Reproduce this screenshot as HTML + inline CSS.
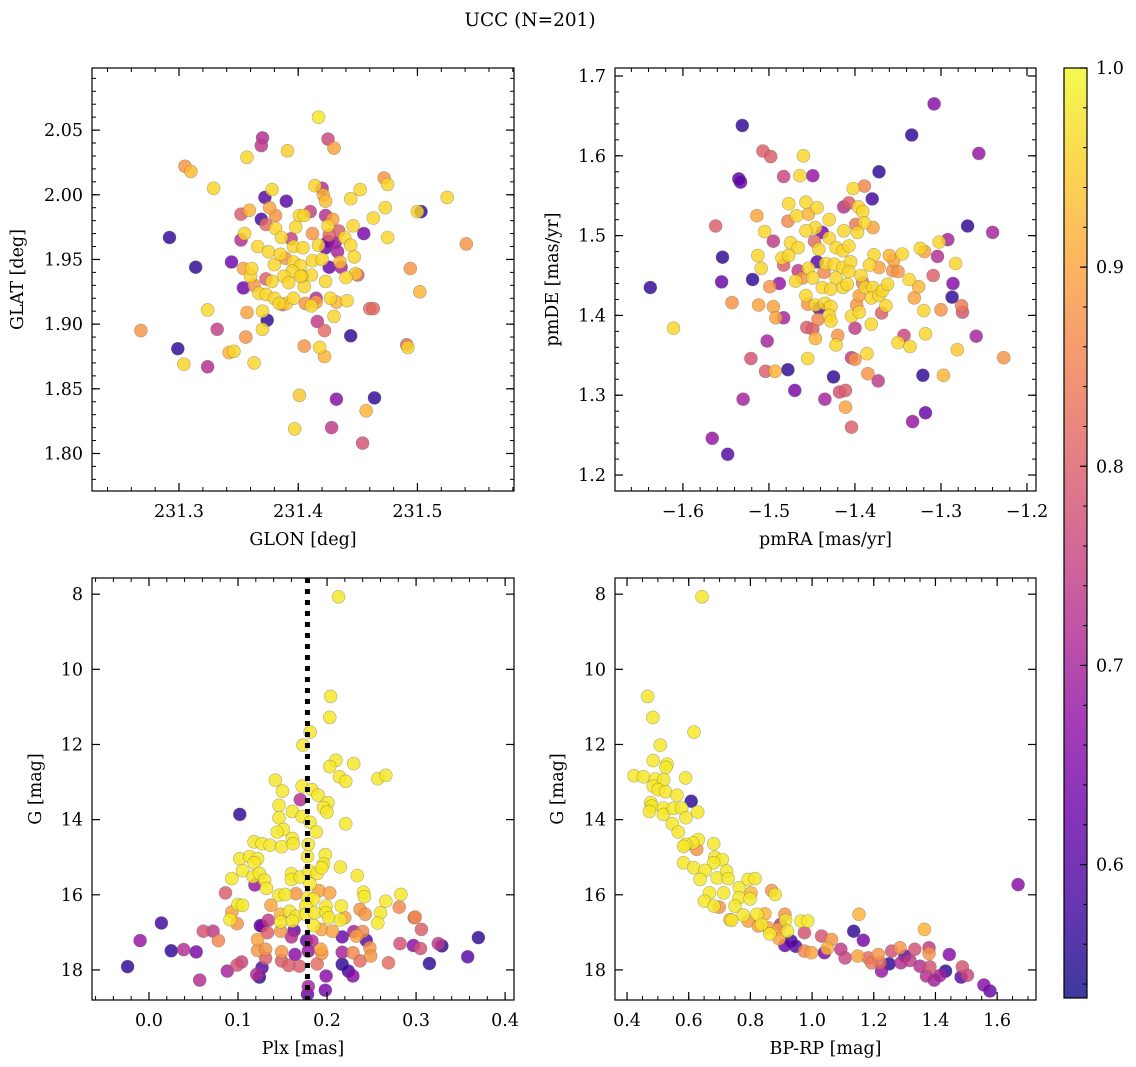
<!DOCTYPE html>
<html><head><meta charset="utf-8">
<style>
body{margin:0;background:#fff;}
svg{display:block;font-family:"DejaVu Serif","Liberation Serif",serif;}
</style></head>
<body>
<svg id="fig" width="1136" height="1067" viewBox="0 0 1136 1067" xmlns="http://www.w3.org/2000/svg">
<rect width="1136" height="1067" fill="#fff"/>
<text x="530" y="26" font-size="18.5" text-anchor="middle">UCC (N=201)</text>
</svg>
<script>
// ---- data: [x, y, probability] ----
const galPoints = [[231.417,2.060,.98],[231.370,2.044,.72],[231.369,2.038,.74],[231.425,2.043,.76],[231.430,2.036,.9],[231.391,2.034,.95],[231.357,2.029,.96],[231.305,2.022,.88],[231.310,2.018,.93],[231.329,2.005,.96],[231.472,2.013,.88],[231.475,2.008,.96],[231.525,1.998,.96],[231.378,2.004,.96],[231.372,1.998,.6],[231.390,1.995,.6],[231.414,2.007,.96],[231.420,2.005,.72],[231.421,2.000,.92],[231.423,1.995,.93],[231.444,1.997,.96],[231.452,2.004,.96],[231.503,1.987,.56],[231.500,1.987,.96],[231.473,1.990,.96],[231.463,1.982,.96],[231.475,1.967,.96],[231.455,1.970,.64],[231.446,1.976,.96],[231.439,1.967,.96],[231.444,1.961,.96],[231.447,1.952,.96],[231.435,1.948,.93],[231.436,1.944,.7],[231.450,1.938,.8],[231.448,1.939,.95],[231.440,1.936,.96],[231.494,1.943,.88],[231.502,1.925,.92],[231.541,1.962,.88],[231.292,1.967,.56],[231.314,1.944,.56],[231.344,1.948,.63],[231.354,1.943,.9],[231.360,1.937,.96],[231.354,1.928,.63],[231.363,1.930,.88],[231.352,1.965,.72],[231.355,1.970,.96],[231.352,1.985,.8],[231.359,1.988,.92],[231.369,1.981,.58],[231.376,1.990,.9],[231.373,1.977,.82],[231.381,1.984,.88],[231.381,1.974,.96],[231.386,1.967,.96],[231.366,1.960,.96],[231.375,1.956,.96],[231.380,1.946,.96],[231.389,1.951,.88],[231.396,1.948,.96],[231.402,1.945,.96],[231.412,1.949,.96],[231.420,1.950,.96],[231.426,1.944,.62],[231.423,1.933,.96],[231.411,1.938,.96],[231.403,1.937,.96],[231.395,1.941,.96],[231.388,1.937,.96],[231.378,1.933,.96],[231.373,1.935,.8],[231.367,1.924,.96],[231.373,1.923,.96],[231.380,1.920,.96],[231.387,1.915,.82],[231.390,1.916,.96],[231.396,1.920,.96],[231.406,1.916,.88],[231.411,1.914,.96],[231.415,1.920,.72],[231.415,1.917,.9],[231.405,1.929,.96],[231.402,1.937,.96],[231.396,1.960,.96],[231.404,1.959,.96],[231.412,1.970,.88],[231.417,1.961,.96],[231.423,1.959,.62],[231.425,1.964,.64],[231.431,1.963,.68],[231.433,1.956,.7],[231.398,1.975,.96],[231.401,1.984,.96],[231.405,1.984,.96],[231.410,1.987,.75],[231.423,1.984,.72],[231.429,1.981,.9],[231.425,1.976,.96],[231.426,1.969,.82],[231.434,1.972,.8],[231.427,1.920,.96],[231.432,1.917,.92],[231.441,1.918,.96],[231.430,1.906,.96],[231.370,1.910,.96],[231.374,1.903,.56],[231.370,1.896,.96],[231.357,1.909,.9],[231.324,1.911,.96],[231.332,1.896,.75],[231.356,1.890,.88],[231.268,1.895,.88],[231.299,1.881,.56],[231.304,1.869,.96],[231.324,1.867,.72],[231.342,1.878,.92],[231.346,1.879,.96],[231.363,1.870,.96],[231.405,1.883,.88],[231.418,1.882,.96],[231.422,1.875,.92],[231.416,1.902,.74],[231.422,1.895,.82],[231.444,1.891,.56],[231.460,1.912,.82],[231.463,1.912,.82],[231.491,1.884,.82],[231.492,1.882,.96],[231.401,1.845,.94],[231.432,1.842,.66],[231.464,1.843,.56],[231.457,1.833,.92],[231.397,1.819,.96],[231.428,1.820,.74],[231.454,1.808,.78],[231.384,1.916,.96],[231.361,1.943,.96],[231.394,1.966,.75],[231.385,1.954,.96],[231.392,1.932,.96]];

const pmPoints = [[-1.308,1.665,.66],[-1.531,1.638,.56],[-1.334,1.626,.56],[-1.256,1.603,.68],[-1.507,1.606,.8],[-1.498,1.599,.8],[-1.460,1.600,.96],[-1.535,1.571,.6],[-1.533,1.567,.62],[-1.483,1.574,.76],[-1.464,1.575,.96],[-1.449,1.575,.68],[-1.372,1.580,.56],[-1.402,1.559,.96],[-1.389,1.562,.86],[-1.380,1.546,.58],[-1.413,1.536,.72],[-1.407,1.541,.8],[-1.396,1.536,.96],[-1.391,1.530,.96],[-1.477,1.540,.96],[-1.457,1.542,.96],[-1.444,1.535,.96],[-1.454,1.527,.92],[-1.468,1.525,.96],[-1.514,1.525,.9],[-1.478,1.518,.86],[-1.430,1.520,.96],[-1.399,1.514,.84],[-1.389,1.516,.96],[-1.379,1.510,.9],[-1.397,1.504,.96],[-1.413,1.506,.96],[-1.446,1.510,.96],[-1.457,1.506,.96],[-1.438,1.504,.64],[-1.430,1.497,.96],[-1.562,1.512,.8],[-1.495,1.493,.74],[-1.505,1.505,.96],[-1.475,1.491,.96],[-1.466,1.485,.96],[-1.447,1.493,.82],[-1.442,1.483,.96],[-1.422,1.485,.96],[-1.414,1.481,.96],[-1.407,1.487,.96],[-1.269,1.512,.56],[-1.240,1.504,.7],[-1.292,1.495,.7],[-1.302,1.492,.96],[-1.324,1.484,.96],[-1.319,1.480,.9],[-1.304,1.474,.72],[-1.283,1.465,.96],[-1.345,1.477,.96],[-1.360,1.475,.92],[-1.355,1.469,.9],[-1.378,1.476,.96],[-1.383,1.463,.96],[-1.372,1.460,.9],[-1.356,1.456,.88],[-1.350,1.455,.88],[-1.337,1.445,.96],[-1.326,1.436,.92],[-1.309,1.450,.8],[-1.286,1.440,.66],[-1.287,1.423,.56],[-1.331,1.422,.9],[-1.320,1.406,.96],[-1.300,1.407,.88],[-1.276,1.412,.84],[-1.275,1.404,.78],[-1.554,1.473,.56],[-1.513,1.475,.96],[-1.509,1.459,.96],[-1.485,1.472,.96],[-1.483,1.463,.8],[-1.477,1.475,.96],[-1.466,1.456,.74],[-1.454,1.459,.96],[-1.444,1.467,.6],[-1.434,1.465,.96],[-1.424,1.464,.96],[-1.414,1.460,.96],[-1.405,1.467,.96],[-1.407,1.455,.96],[-1.422,1.447,.96],[-1.436,1.454,.86],[-1.449,1.447,.96],[-1.461,1.447,.88],[-1.469,1.443,.96],[-1.488,1.440,.68],[-1.499,1.436,.88],[-1.519,1.445,.56],[-1.555,1.442,.62],[-1.638,1.435,.56],[-1.611,1.384,.96],[-1.543,1.416,.88],[-1.512,1.413,.9],[-1.495,1.411,.9],[-1.492,1.397,.9],[-1.483,1.397,.7],[-1.457,1.425,.96],[-1.455,1.414,.88],[-1.446,1.413,.96],[-1.435,1.415,.96],[-1.442,1.409,.6],[-1.428,1.411,.96],[-1.430,1.400,.96],[-1.428,1.393,.96],[-1.443,1.395,.86],[-1.438,1.435,.96],[-1.428,1.433,.96],[-1.414,1.435,.96],[-1.409,1.439,.96],[-1.393,1.450,.96],[-1.391,1.441,.84],[-1.388,1.435,.96],[-1.395,1.425,.9],[-1.398,1.413,.88],[-1.404,1.399,.96],[-1.395,1.404,.96],[-1.379,1.435,.96],[-1.381,1.422,.96],[-1.372,1.425,.96],[-1.368,1.431,.96],[-1.362,1.439,.96],[-1.364,1.412,.96],[-1.369,1.403,.8],[-1.381,1.389,.96],[-1.400,1.384,.74],[-1.456,1.385,.8],[-1.449,1.383,.8],[-1.446,1.371,.92],[-1.420,1.375,.88],[-1.422,1.363,.96],[-1.502,1.368,.7],[-1.521,1.346,.78],[-1.504,1.330,.8],[-1.493,1.330,.92],[-1.478,1.332,.56],[-1.455,1.346,.96],[-1.404,1.347,.74],[-1.400,1.345,.88],[-1.386,1.352,.96],[-1.343,1.375,.76],[-1.350,1.366,.96],[-1.336,1.361,.96],[-1.318,1.377,.96],[-1.281,1.357,.94],[-1.259,1.374,.7],[-1.227,1.347,.88],[-1.321,1.325,.56],[-1.297,1.325,.92],[-1.385,1.327,.88],[-1.373,1.318,.74],[-1.425,1.323,.56],[-1.470,1.306,.64],[-1.418,1.304,.78],[-1.411,1.306,.8],[-1.411,1.285,.9],[-1.435,1.295,.7],[-1.530,1.295,.7],[-1.404,1.260,.8],[-1.333,1.267,.68],[-1.318,1.278,.62],[-1.566,1.246,.68],[-1.548,1.226,.6]];

const plxPoints = [[0.213,8.07,.98],[0.204,10.72,.98],[0.203,11.28,.98],[0.181,11.67,.98],[0.173,12.02,.98],[0.210,12.42,.98],[0.203,12.59,.98],[0.230,12.51,.98],[0.214,12.86,.98],[0.221,12.98,.98],[0.257,12.91,.98],[0.266,12.82,.98],[0.142,12.95,.98],[0.150,13.24,.98],[0.172,13.11,.98],[0.183,13.20,.98],[0.190,13.35,.98],[0.201,13.55,.98],[0.196,13.68,.98],[0.200,13.80,.98],[0.170,13.47,.72],[0.146,13.62,.98],[0.161,13.78,.98],[0.172,13.92,.98],[0.181,14.07,.98],[0.146,13.95,.98],[0.151,14.26,.98],[0.144,14.33,.98],[0.161,14.50,.98],[0.188,14.33,.98],[0.221,14.11,.98],[0.102,13.86,.56],[0.118,14.59,.98],[0.127,14.64,.98],[0.136,14.68,.98],[0.149,14.72,.98],[0.162,14.64,.98],[0.179,14.66,.98],[0.178,14.98,.98],[0.198,14.93,.98],[0.196,15.18,.98],[0.215,15.26,.98],[0.234,15.49,.98],[0.102,15.04,.98],[0.113,14.98,.98],[0.122,15.04,.98],[0.118,15.15,.98],[0.105,15.36,.98],[0.093,15.57,.98],[0.117,15.52,.98],[0.124,15.43,.98],[0.130,15.61,.98],[0.119,15.74,.68],[0.132,15.83,.98],[0.160,15.44,.98],[0.160,15.59,.98],[0.170,15.53,.98],[0.180,15.37,.98],[0.189,15.43,.98],[0.194,15.28,.98],[0.181,15.71,.98],[0.191,15.89,.9],[0.203,15.95,.9],[0.146,16.01,.98],[0.153,15.99,.98],[0.165,15.97,.88],[0.178,16.08,.98],[0.185,16.11,.98],[0.176,16.30,.98],[0.199,16.30,.98],[0.216,16.30,.98],[0.241,15.93,.98],[0.242,16.05,.98],[0.266,16.17,.98],[0.283,15.99,.98],[0.086,15.95,.8],[0.100,16.26,.98],[0.105,16.28,.98],[0.093,16.46,.9],[0.091,16.66,.98],[0.099,16.77,.88],[0.137,16.28,.9],[0.148,16.52,.92],[0.158,16.44,.98],[0.165,16.57,.98],[0.176,16.52,.98],[0.186,16.48,.98],[0.199,16.48,.98],[0.202,16.61,.98],[0.215,16.67,.98],[0.220,16.61,.9],[0.237,16.39,.88],[0.243,16.52,.88],[0.260,16.48,.98],[0.257,16.75,.98],[0.281,16.33,.86],[0.298,16.61,.84],[0.148,16.72,.98],[0.161,16.70,.98],[0.185,16.82,.98],[0.194,16.92,.9],[0.206,16.97,.9],[0.230,16.98,.7],[0.240,16.98,.86],[0.217,17.12,.62],[0.233,17.10,.9],[0.244,17.21,.6],[0.148,16.97,.88],[0.134,16.68,.74],[0.125,16.82,.6],[0.133,17.01,.8],[0.160,17.12,.72],[0.163,16.95,.62],[0.177,17.22,.62],[0.183,17.23,.72],[0.122,17.19,.9],[0.122,17.48,.88],[0.131,17.45,.88],[0.131,17.69,.8],[0.149,17.52,.88],[0.149,17.76,.8],[0.164,17.59,.66],[0.179,17.50,.68],[0.193,17.45,.9],[0.194,17.56,.88],[0.189,17.84,.82],[0.169,17.90,.8],[0.157,17.88,.8],[0.217,17.53,.7],[0.229,17.54,.86],[0.237,17.76,.82],[0.248,17.41,.88],[0.249,17.63,.88],[0.269,17.81,.82],[0.282,17.30,.78],[0.297,17.35,.66],[0.305,17.43,.78],[0.329,17.36,.56],[0.325,17.30,.74],[0.358,17.65,.6],[0.370,17.14,.56],[0.315,17.83,.56],[0.306,16.92,.8],[0.299,16.59,.86],[0.217,17.85,.56],[0.224,18.03,.58],[0.229,18.16,.66],[0.199,18.16,.66],[0.198,18.54,.64],[0.179,18.44,.7],[0.178,18.65,.62],[0.127,17.94,.6],[0.124,18.19,.56],[0.121,18.12,.72],[0.104,17.79,.76],[0.099,17.87,.78],[0.088,18.03,.7],[0.057,18.27,.72],[0.053,17.52,.64],[0.039,17.46,.72],[0.025,17.49,.56],[0.014,16.75,.58],[-0.010,17.22,.68],[-0.024,17.91,.56],[0.061,16.97,.78],[0.072,16.97,.74],[0.078,17.22,.86],[0.127,16.83,.64]];

const cmdPoints = [[0.643,8.07,.98],[0.467,10.72,.98],[0.484,11.28,.98],[0.617,11.67,.98],[0.508,12.02,.98],[0.485,12.43,.98],[0.530,12.52,.98],[0.526,12.61,.98],[0.423,12.83,.98],[0.453,12.86,.98],[0.492,12.92,.98],[0.519,12.94,.98],[0.590,12.89,.98],[0.485,13.11,.98],[0.501,13.20,.98],[0.525,13.26,.98],[0.562,13.35,.98],[0.608,13.51,.56],[0.477,13.55,.98],[0.480,13.64,.98],[0.473,13.78,.98],[0.518,13.69,.98],[0.518,13.86,.98],[0.550,13.70,.98],[0.577,13.69,.98],[0.591,13.95,.98],[0.629,13.80,.98],[0.547,14.11,.98],[0.566,14.33,.98],[0.631,14.53,.98],[0.613,14.62,.98],[0.590,14.66,.98],[0.583,14.71,.98],[0.626,14.79,.88],[0.681,14.64,.98],[0.685,15.00,.98],[0.709,15.06,.98],[0.681,15.15,.98],[0.583,15.15,.98],[0.616,15.28,.98],[0.653,15.35,.98],[0.637,15.59,.98],[0.692,15.55,.98],[0.723,15.37,.98],[0.728,15.57,.98],[0.764,15.81,.98],[0.793,15.59,.98],[0.815,15.57,.98],[0.802,15.95,.92],[0.667,15.95,.98],[0.713,15.95,.98],[0.763,16.08,.98],[0.799,16.11,.98],[0.651,16.17,.98],[0.682,16.30,.98],[0.699,16.33,.88],[0.750,16.30,.98],[0.777,16.54,.98],[0.734,16.66,.92],[0.739,16.68,.98],[0.793,16.70,.9],[0.821,16.52,.98],[0.847,16.51,.92],[0.836,16.79,.98],[0.826,16.83,.9],[0.869,15.89,.88],[0.880,15.99,.98],[0.858,16.88,.9],[0.863,17.04,.98],[0.890,16.92,.9],[0.912,16.52,.88],[0.914,16.68,.98],[0.920,16.97,.98],[0.898,16.79,.72],[0.893,17.17,.9],[0.912,17.35,.62],[0.947,17.37,.6],[0.932,17.23,.58],[0.964,16.70,.98],[0.986,16.70,.98],[0.975,17.01,.78],[0.975,17.50,.86],[0.998,17.54,.9],[1.031,17.10,.78],[1.040,17.54,.64],[1.049,17.43,.92],[1.063,17.19,.88],[1.093,17.45,.74],[1.107,17.68,.76],[1.135,16.97,.56],[1.166,17.21,.64],[1.152,16.52,.92],[1.148,17.63,.9],[1.182,17.68,.82],[1.193,17.81,.84],[1.215,17.59,.88],[1.220,17.81,.82],[1.225,18.03,.68],[1.250,17.84,.56],[1.258,17.50,.78],[1.285,17.41,.88],[1.288,17.81,.72],[1.301,17.63,.6],[1.317,17.75,.74],[1.333,17.45,.78],[1.350,17.90,.72],[1.364,16.92,.92],[1.379,17.41,.74],[1.379,17.56,.88],[1.382,17.92,.78],[1.371,18.16,.72],[1.396,18.27,.7],[1.414,18.15,.7],[1.433,18.03,.56],[1.445,17.59,.66],[1.483,18.19,.6],[1.487,17.92,.78],[1.504,18.14,.76],[1.557,18.40,.66],[1.577,18.56,.62],[1.668,15.73,.66]];

// ---- tick labels ----
const tlXTicks = [231.3, 231.4, 231.5];
const tlYTicks = [1.80, 1.85, 1.90, 1.95, 2.00, 2.05];
const trXTicks = [-1.6, -1.5, -1.4, -1.3, -1.2];
const trYTicks = [1.2, 1.3, 1.4, 1.5, 1.6, 1.7];
const blXTicks = [0.0, 0.1, 0.2, 0.3, 0.4];
const blYTicks = [8, 10, 12, 14, 16, 18];
const brXTicks = [0.4, 0.6, 0.8, 1.0, 1.2, 1.4, 1.6];
const brYTicks = [8, 10, 12, 14, 16, 18];
const cbTicks = [0.6, 0.7, 0.8, 0.9, 1.0];
const plxMedian = 0.178;
const probMin = 0.533, probMax = 1.0;

const NS = "http://www.w3.org/2000/svg";
const svg = document.getElementById('fig');
const FS = 17.5;
function mk(tag, attrs, parent) {
  const e = document.createElementNS(NS, tag);
  for (const k in attrs) e.setAttribute(k, attrs[k]);
  (parent || svg).appendChild(e);
  return e;
}
const stops = [[0,13,8,135],[0.1,65,4,157],[0.2,106,0,168],[0.3,143,13,164],[0.4,177,42,144],[0.5,204,71,120],[0.6,225,100,98],[0.7,242,132,75],[0.8,252,166,54],[0.9,252,206,37],[1,240,249,33]];
function plasma(t) {
  t = Math.max(0, Math.min(1, t));
  for (let i = 1; i < stops.length; i++) {
    if (t <= stops[i][0]) {
      const a = stops[i-1], b = stops[i], f = (t - a[0]) / (b[0] - a[0]);
      return `rgb(${Math.round(a[1]+f*(b[1]-a[1]))},${Math.round(a[2]+f*(b[2]-a[2]))},${Math.round(a[3]+f*(b[3]-a[3]))})`;
    }
  }
  return 'rgb(240,249,33)';
}
function fmt(v, d) { const s = v.toFixed(d); return s.replace('-', '\u2212'); }

function panel(cfg) {
  const g = mk('g', {});
  
  
  const {L, T, R, B} = cfg;
  const sx = v => L + (v - cfg.x0) / (cfg.x1 - cfg.x0) * (R - L);
  const sy = v => T + (cfg.y1 - v) / (cfg.y1 - cfg.y0) * (B - T);
  const clip = mk('clipPath', {id: cfg.name + '-clip'}, g);
  mk('rect', {x: L, y: T, width: R - L, height: B - T}, clip);
  const pts = mk('g', {'clip-path': `url(#${cfg.name}-clip)`}, g);
  const sorted = cfg.data.slice().sort((a, b) => a[2] - b[2]);
  sorted.forEach(d => {
    const c = mk('circle', {cx: sx(d[0]).toFixed(1), cy: sy(d[1]).toFixed(1), r: 6.5,
      fill: plasma((d[2] - probMin) / (probMax - probMin)), 'fill-opacity': 0.82,
      stroke: 'rgba(90,90,90,0.45)', 'stroke-width': 0.6}, pts);
    
    
  });
  if (cfg.vline !== undefined) {
    const ln = mk('line', {x1: sx(cfg.vline), x2: sx(cfg.vline), y1: T, y2: B, stroke: '#000', 'stroke-width': 5, 'stroke-dasharray': '5 6'}, pts);
    
    
  }
  mk('rect', {x: L, y: T, width: R - L, height: B - T, fill: 'none', stroke: '#000', 'stroke-width': 1.2}, g);
  for (let v = Math.ceil(cfg.x0 / cfg.xm) * cfg.xm; v <= cfg.x1; v += cfg.xm) {
    const x = sx(v);
    mk('line', {x1: x, x2: x, y1: B, y2: B - 4, stroke: '#000', 'stroke-width': 1}, g);
    mk('line', {x1: x, x2: x, y1: T, y2: T + 4, stroke: '#000', 'stroke-width': 1}, g);
  }
  for (let v = Math.ceil(cfg.y0 / cfg.ym) * cfg.ym; v <= cfg.y1; v += cfg.ym) {
    const y = sy(v);
    mk('line', {x1: L, x2: L + 4, y1: y, y2: y, stroke: '#000', 'stroke-width': 1}, g);
    mk('line', {x1: R, x2: R - 4, y1: y, y2: y, stroke: '#000', 'stroke-width': 1}, g);
  }
  cfg.xt.forEach(v => {
    const x = sx(v);
    mk('line', {x1: x, x2: x, y1: B, y2: B - 8, stroke: '#000', 'stroke-width': 1.2}, g);
    mk('line', {x1: x, x2: x, y1: T, y2: T + 8, stroke: '#000', 'stroke-width': 1.2}, g);
    const t = mk('text', {x: x, y: B + 26, 'font-size': FS, 'text-anchor': 'middle'}, g);
    t.textContent = fmt(v, cfg.xd);
    
    
  });
  cfg.yt.forEach(v => {
    const y = sy(v);
    mk('line', {x1: L, x2: L + 8, y1: y, y2: y, stroke: '#000', 'stroke-width': 1.2}, g);
    mk('line', {x1: R, x2: R - 8, y1: y, y2: y, stroke: '#000', 'stroke-width': 1.2}, g);
    const t = mk('text', {x: L - 9, y: y + 6, 'font-size': FS, 'text-anchor': 'end'}, g);
    t.textContent = fmt(v, cfg.yd);
    
    
  });
  const xl = mk('text', {x: (L + R) / 2, y: B + 54, 'font-size': FS, 'text-anchor': 'middle'}, g);
  xl.textContent = cfg.xlabel;
  
  
  const yx = cfg.ylx, yy = (T + B) / 2;
  const yl = mk('text', {x: yx, y: yy, 'font-size': FS, 'text-anchor': 'middle', transform: `rotate(-90 ${yx} ${yy})`}, g);
  yl.textContent = cfg.ylabel;
  
  
}

panel({name: 'glon-glat-panel', L: 92, T: 68, R: 514, B: 491, x0: 231.227, x1: 231.581, y0: 1.771, y1: 2.098,
  xt: tlXTicks, yt: tlYTicks, xm: 0.02, ym: 0.01, xd: 1, yd: 2, data: galPoints, xlabel: 'GLON [deg]', ylabel: 'GLAT [deg]', ylx: 23});
panel({name: 'proper-motion-panel', L: 615, T: 68, R: 1036, B: 491, x0: -1.679, x1: -1.1895, y0: 1.18, y1: 1.71,
  xt: trXTicks, yt: trYTicks, xm: 0.02, ym: 0.02, xd: 1, yd: 1, data: pmPoints, xlabel: 'pmRA [mas/yr]', ylabel: 'pmDE [mas/yr]', ylx: 558});
panel({name: 'plx-g-panel', L: 92, T: 578, R: 514, B: 1000, x0: -0.064, x1: 0.41, y0: 18.8, y1: 7.57,
  xt: blXTicks, yt: blYTicks, xm: 0.02, ym: 0.5, xd: 1, yd: 0, data: plxPoints, xlabel: 'Plx [mas]', ylabel: 'G [mag]', ylx: 41, vline: plxMedian});
panel({name: 'cmd-panel', L: 615, T: 578, R: 1036, B: 1000, x0: 0.361, x1: 1.726, y0: 18.8, y1: 7.57,
  xt: brXTicks, yt: brYTicks, xm: 0.05, ym: 0.5, xd: 1, yd: 0, data: cmdPoints, xlabel: 'BP-RP [mag]', ylabel: 'G [mag]', ylx: 563});

// ---- colorbar ----
(function () {
  const g = mk('g', {});
  
  
  const L = 1064, R = 1087, T = 68, B = 998;
  const sy = v => B - (v - probMin) / (probMax - probMin) * (B - T);
  const grad = mk('linearGradient', {id: 'cbgrad', x1: 0, y1: 1, x2: 0, y2: 0}, g);
  for (let i = 0; i <= 20; i++) {
    mk('stop', {offset: (i / 20).toFixed(2), 'stop-color': plasma(i / 20)}, grad);
  }
  mk('rect', {x: L, y: T, width: R - L, height: B - T, fill: 'url(#cbgrad)', 'fill-opacity': 0.8}, g);
  mk('rect', {x: L, y: T, width: R - L, height: B - T, fill: 'none', stroke: '#000', 'stroke-width': 1.2}, g);
  for (let v = 0.54; v <= 1.0001; v += 0.02) {
    const y = sy(v);
    mk('line', {x1: R, x2: R - 4, y1: y, y2: y, stroke: '#000', 'stroke-width': 1}, g);
  }
  cbTicks.forEach(v => {
    const y = sy(v);
    mk('line', {x1: R, x2: R - 7, y1: y, y2: y, stroke: '#000', 'stroke-width': 1.2}, g);
    const t = mk('text', {x: R + 9, y: y + 6, 'font-size': FS}, g);
    t.textContent = v.toFixed(1);
    
    
  });
})();
</script>
</body></html>
